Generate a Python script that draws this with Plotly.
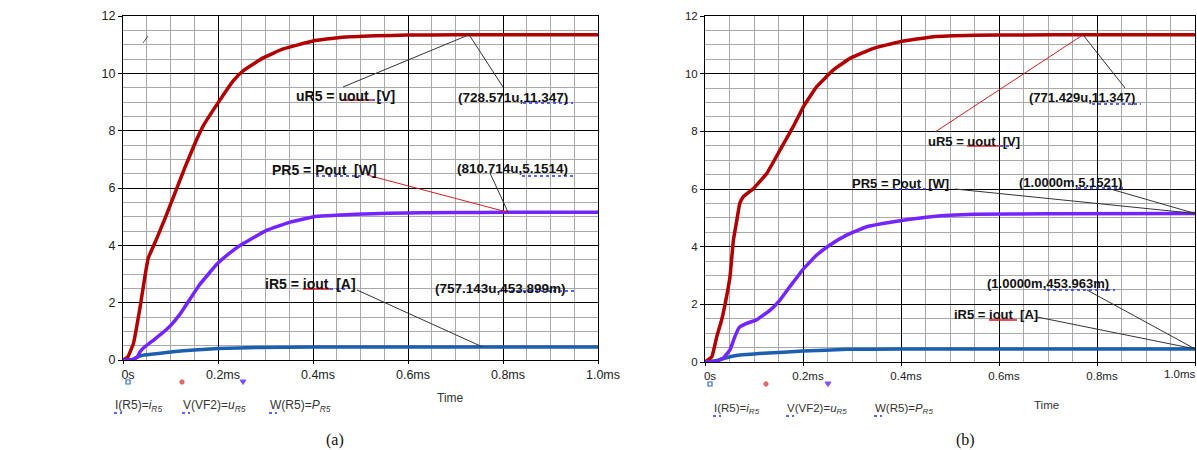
import plotly.graph_objects as go

# ---------------- data ----------------
tick_vals = [0, 0.2, 0.4, 0.6, 0.8, 1.0]
tick_text = ["0s", "0.2ms", "0.4ms", "0.6ms", "0.8ms", "1.0ms"]

# (a) time in ms
a_u_t = [0, 0.01, 0.022, 0.036, 0.046, 0.053, 0.07, 0.09, 0.11, 0.13, 0.15, 0.17, 0.2,
         0.232, 0.253, 0.295, 0.337, 0.4, 0.457, 0.53, 0.6, 0.7, 0.8, 1.0]
a_u_v = [0, 0.1, 0.58, 1.85, 2.9, 3.55, 4.2, 5.0, 5.85, 6.7, 7.5, 8.2, 8.97,
         9.74, 10.09, 10.54, 10.85, 11.13, 11.25, 11.31, 11.335, 11.345, 11.347, 11.347]
a_p_t = [0, 0.02, 0.03, 0.036, 0.046, 0.063, 0.08, 0.1, 0.12, 0.14, 0.16, 0.18, 0.2, 0.23,
         0.253, 0.302, 0.352, 0.4, 0.49, 0.56, 0.7, 0.81, 1.0]
a_p_v = [0, 0.0, 0.1, 0.29, 0.46, 0.68, 0.9, 1.2, 1.6, 2.1, 2.6, 3.0, 3.38, 3.8,
         4.06, 4.52, 4.81, 4.99, 5.08, 5.12, 5.145, 5.1514, 5.152]
a_i_t = [0, 0.02, 0.03, 0.043, 0.07, 0.105, 0.15, 0.2, 0.285, 0.4, 0.757, 1.0]
a_i_v = [0, 0.02, 0.1, 0.17, 0.22, 0.29, 0.35, 0.4, 0.44, 0.45, 0.4539, 0.454]

# (b)
b_u_t = [0, 0.014, 0.024, 0.034, 0.044, 0.051, 0.058, 0.065, 0.071, 0.078, 0.099, 0.126, 0.153,
         0.18, 0.201, 0.228, 0.262, 0.296, 0.344, 0.398, 0.466, 0.55, 0.65, 0.771, 1.0]
b_u_v = [0, 0.18, 0.88, 1.46, 2.27, 2.96, 4.23, 4.92, 5.5, 5.73, 6.02, 6.54, 7.35,
         8.16, 8.86, 9.55, 10.13, 10.53, 10.88, 11.11, 11.28, 11.33, 11.345, 11.347, 11.347]
b_p_t = [0, 0.02, 0.037, 0.051, 0.061, 0.07, 0.085, 0.105, 0.133, 0.153, 0.173, 0.199, 0.228,
         0.255, 0.289, 0.33, 0.398, 0.466, 0.55, 0.7, 1.0]
b_p_v = [0, 0, 0.13, 0.42, 0.88, 1.2, 1.34, 1.46, 1.8, 2.15, 2.61, 3.19, 3.71,
         4.06, 4.4, 4.69, 4.9, 5.05, 5.12, 5.145, 5.1521]
b_i_t = [0, 0.024, 0.051, 0.071, 0.12, 0.2, 0.29, 0.4, 0.6, 1.0]
b_i_v = [0, 0.05, 0.18, 0.24, 0.3, 0.38, 0.44, 0.45, 0.454, 0.454]

# cursor readouts (t in ms, value)
cur_a_t = [0.728571, 0.810714, 0.757143]
cur_a_v = [11.347, 5.1514, 0.453899]
cur_a_txt = ["(728.571u,11.347)", "(810.714u,5.1514)", "(757.143u,453.899m)"]
cur_b_t = [0.771429, 1.0, 1.0]
cur_b_v = [11.347, 5.1521, 0.453963]
cur_b_txt = ["(771.429u,11.347)", "(1.0000m,5.1521)", "(1.0000m,453.963m)"]
name_txt = ["uR5 = uout  [V]", "PR5 = Pout  [W]", "iR5 = iout  [A]"]

RED = "#b00000"
PURPLE = "#7424ff"
BLUE = "#1c5fae"

W, H = 1197, 450
FA = dict(x0=123, x1=598, y0=16, y1=360)
FB = dict(x0=705, x1=1195, y0=16, y1=362)


def to_data(f, px, py):
    return (px - f["x0"]) / (f["x1"] - f["x0"]), (f["y1"] - py) / (f["y1"] - f["y0"]) * 12


def pp(px, py):
    return px / W, 1 - py / H


fig = go.Figure()
for (xs, ys, c, xa, ya) in [
    (a_i_t, a_i_v, BLUE, "x", "y"), (a_u_t, a_u_v, RED, "x", "y"), (a_p_t, a_p_v, PURPLE, "x", "y"),
    (b_i_t, b_i_v, BLUE, "x2", "y2"), (b_u_t, b_u_v, RED, "x2", "y2"), (b_p_t, b_p_v, PURPLE, "x2", "y2"),
]:
    fig.add_trace(go.Scatter(x=xs, y=ys, mode="lines", xaxis=xa, yaxis=ya,
                             line=dict(color=c, width=3.5, shape="spline", smoothing=0.3),
                             showlegend=False, hoverinfo="skip"))

FONT = "Liberation Sans, Arial, sans-serif"


def xaxis_cfg(f, fs, n_labels):
    return dict(domain=[f["x0"] / W, f["x1"] / W], range=[0, 1], tickvals=tick_vals,
                ticktext=tick_text[:n_labels] + [""] * (len(tick_text) - n_labels),
                showgrid=True, gridcolor="#000000", gridwidth=1, zeroline=False, automargin=False,
                minor=dict(dtick=0.05, tick0=0, showgrid=True, gridcolor="#a8a8a8", gridwidth=1),
                showline=True, linecolor="#000000", linewidth=1, mirror=True,
                ticks="outside", ticklen=3, tickcolor="#000", ticklabelshift=5,
                tickfont=dict(family=FONT, size=fs, color="#222"), fixedrange=True)


def yaxis_cfg(f, fs):
    return dict(domain=[1 - f["y1"] / H, 1 - f["y0"] / H], range=[0, 12], dtick=2, tick0=0,
                showgrid=True, gridcolor="#000000", gridwidth=1, zeroline=False, automargin=False,
                minor=dict(dtick=0.5, tick0=0, showgrid=True, gridcolor="#a8a8a8", gridwidth=1),
                showline=True, linecolor="#000000", linewidth=1, mirror=True,
                ticks="outside", ticklen=4, tickcolor="#000",
                tickfont=dict(family=FONT, size=fs, color="#222"), fixedrange=True)


fig.update_layout(
    width=W, height=H, autosize=False, margin=dict(l=0, r=0, t=0, b=0, autoexpand=False),
    paper_bgcolor="white", plot_bgcolor="white",
    xaxis=dict(xaxis_cfg(FA, 12.5, 6), anchor="y"), yaxis=dict(yaxis_cfg(FA, 12.5), anchor="x"),
    xaxis2=dict(xaxis_cfg(FB, 11.5, 5), anchor="y2"), yaxis2=dict(yaxis_cfg(FB, 11.5), anchor="x2"),
)

shapes = []
ann = []


def txt(f, xr, yr, px, py, s, size, bold=True):
    x, y = to_data(f, px, py)
    ann.append(dict(x=x, y=y, xref=xr, yref=yr, text=("<b>%s</b>" % s) if bold else s,
                    showarrow=False, xanchor="left", yanchor="middle",
                    font=dict(family=FONT, size=size, color="#111")))


def seg(f, xr, yr, p0, p1, color, width=1):
    x0, y0 = to_data(f, *p0)
    x1, y1 = to_data(f, *p1)
    shapes.append(dict(type="line", xref=xr, yref=yr, x0=x0, y0=y0, x1=x1, y1=y1,
                       line=dict(color=color, width=width)))


def lead(f, xr, yr, p0, tx, vy, color):
    x0, y0 = to_data(f, *p0)
    shapes.append(dict(type="line", xref=xr, yref=yr, x0=x0, y0=y0, x1=tx, y1=vy,
                       line=dict(color=color, width=1)))


def uline(px0, px1, py, color, dash="solid", width=1.6):
    x0, y0 = pp(px0, py)
    x1, _ = pp(px1, py)
    shapes.append(dict(type="line", xref="paper", yref="paper", x0=x0, y0=y0, x1=x1, y1=y0,
                       line=dict(color=color, width=width, dash=dash)))


ULR = "#e3202c"
ULB = "#2233ee"

# ---- (a) annotations ----
txt(FA, "x", "y", 294, 96, name_txt[0], 14)
txt(FA, "x", "y", 456, 97, cur_a_txt[0], 13.5)
txt(FA, "x", "y", 270, 170, name_txt[1], 14)
txt(FA, "x", "y", 455, 168, cur_a_txt[1], 13.5)
txt(FA, "x", "y", 263, 284, name_txt[2], 14)
txt(FA, "x", "y", 433, 288, cur_a_txt[2], 13.5)
lead(FA, "x", "y", (343, 87), cur_a_t[0], cur_a_v[0], "#333")
lead(FA, "x", "y", (503, 87), cur_a_t[0], cur_a_v[0], "#333")
lead(FA, "x", "y", (367, 175), cur_a_t[1], cur_a_v[1], "#d02020")
lead(FA, "x", "y", (490, 173), cur_a_t[1], cur_a_v[1], "#333")
lead(FA, "x", "y", (357, 290), cur_a_t[2], cur_a_v[2], "#333")
uline(343, 372, 100, ULR); uline(372, 386, 100, ULB, "dot")
uline(316, 363, 176, ULB, "dot")
uline(303, 330, 289, ULR); uline(330, 346, 289, ULB, "dot")
uline(523, 573, 103, ULB, "dot")
uline(522, 573, 176, ULB, "dot")
uline(499, 575, 291, ULB, "dot")
seg(FA, "x", "y", (143, 43), (148, 36), "#555")

# ---- (b) annotations ----
txt(FB, "x2", "y2", 926, 141, name_txt[0], 13)
txt(FB, "x2", "y2", 1027, 97, cur_b_txt[0], 13)
txt(FB, "x2", "y2", 850, 183, name_txt[1], 13)
txt(FB, "x2", "y2", 1017, 182, cur_b_txt[1], 13)
txt(FB, "x2", "y2", 985, 283, cur_b_txt[2], 13)
txt(FB, "x2", "y2", 952, 314, name_txt[2], 13)
lead(FB, "x2", "y2", (935, 132), cur_b_t[0], cur_b_v[0], "#d02020")
lead(FB, "x2", "y2", (1125, 88), cur_b_t[0], cur_b_v[0], "#333")
lead(FB, "x2", "y2", (955, 189), cur_b_t[1], cur_b_v[1], "#333")
lead(FB, "x2", "y2", (1107, 188), cur_b_t[1], cur_b_v[1], "#333")
lead(FB, "x2", "y2", (1087, 290), cur_b_t[2], cur_b_v[2], "#333")
lead(FB, "x2", "y2", (1037, 317), cur_b_t[2], cur_b_v[2], "#333")
uline(967, 1000, 146, ULR); uline(1000, 1013, 146, ULB, "dot")
uline(893, 937, 189, ULB, "dot")
uline(1092, 1141, 104, ULB, "dot")
uline(1078, 1125, 188, ULB, "dot")
uline(1047, 1115, 290, ULB, "dot")
uline(989, 1017, 320, ULR)

# last tick label of (b), drawn at the page edge like the reference
ann.append(dict(x=1.0, y=0, xref="x2", yref="y2", text=tick_text[-1], showarrow=False,
                xanchor="right", yanchor="top", xshift=3, yshift=-4,
                font=dict(family=FONT, size=11.5, color="#222")))


# ---- legend glyphs and labels ----
def glyphs(xs, py, lab_x, lab_y, fs):
    x0, y0 = pp(xs[0] - 2, py - 2); x1, y1 = pp(xs[0] + 2, py + 2)
    shapes.append(dict(type="rect", xref="paper", yref="paper", x0=x0, y0=y0, x1=x1, y1=y1,
                       line=dict(color="#2f6fc0", width=1.2), fillcolor="rgba(0,0,0,0)"))
    x0, y0 = pp(xs[1] - 2.2, py - 2.2); x1, y1 = pp(xs[1] + 2.2, py + 2.2)
    shapes.append(dict(type="circle", xref="paper", yref="paper", x0=x0, y0=y0, x1=x1, y1=y1,
                       line=dict(color="#e06a6a", width=1), fillcolor="#e06a6a"))
    ax, ay = pp(xs[2] - 3, py - 2); bx, by = pp(xs[2] + 3, py - 2); cx, cy = pp(xs[2], py + 2.5)
    shapes.append(dict(type="path", xref="paper", yref="paper",
                       path="M %f %f L %f %f L %f %f Z" % (ax, ay, bx, by, cx, cy),
                       line=dict(color="#8050ff", width=1), fillcolor="#8050ff"))
    labels = ["I(R5)=<i>i<sub>R5</sub></i>", "V(VF2)=<i>u<sub>R5</sub></i>", "W(R5)=<i>P<sub>R5</sub></i>"]
    for lx, lab in zip(lab_x, labels):
        x, y = pp(lx, lab_y)
        ann.append(dict(x=x, y=y, xref="paper", yref="paper", text=lab, showarrow=False,
                        xanchor="left", yanchor="middle", font=dict(family=FONT, size=fs, color="#333")))
        uline(lx + 1, lx + 9, lab_y + 7, ULB, "dot", 1.5)


glyphs([128, 182, 243], 382, [113, 181, 268], 406, 12)
glyphs([710, 766, 828], 384, [712, 785, 873], 409, 11.5)

for (px, py, s, fs) in [(450, 398, "Time", 12), (1046, 405, "Time", 11.5)]:
    x, y = pp(px, py)
    ann.append(dict(x=x, y=y, xref="paper", yref="paper", text=s, showarrow=False,
                    xanchor="center", yanchor="middle", font=dict(family=FONT, size=fs, color="#333")))
for (px, py, s) in [(335, 440, "(a)"), (965, 440, "(b)")]:
    x, y = pp(px, py)
    ann.append(dict(x=x, y=y, xref="paper", yref="paper", text=s, showarrow=False,
                    xanchor="center", yanchor="middle",
                    font=dict(family="Liberation Serif, Times New Roman, serif", size=16, color="#111")))

fig.update_layout(shapes=shapes, annotations=ann)
fig.write_html("out.html", config={"displayModeBar": False, "staticPlot": True},
               post_script="document.body.style.margin='0';document.body.style.overflow='hidden';")
